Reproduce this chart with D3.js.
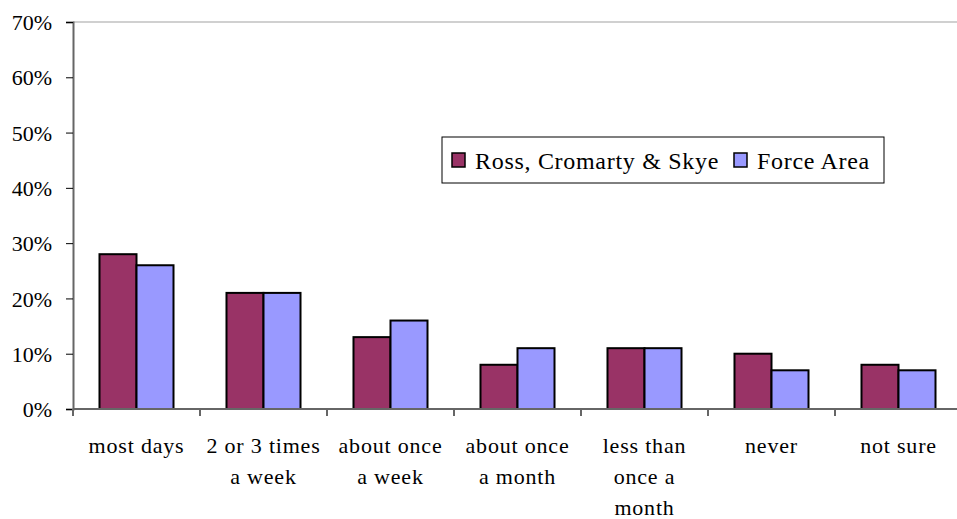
<!DOCTYPE html>
<html><head><meta charset="utf-8">
<script src="https://cdn.jsdelivr.net/npm/d3@7"></script>
<style>body{margin:0;background:#fff}svg{display:block}</style>
</head><body>
<svg id="c" width="957" height="519"></svg>
<script>
const categories = [["most days"],["2 or 3 times","a week"],["about once","a week"],["about once","a month"],["less than","once a","month"],["never"],["not sure"]];
const seriesNames = ["Ross, Cromarty & Skye","Force Area"];
const ross = [28,21,13,8,11,10,8];
const force = [26,21,16,11,11,7,7];
const yTicks = [0,10,20,30,40,50,60,70];
const colors = ["#993366","#9999FF"];

(function(){
const FF = '"Liberation Serif"';
const svg = d3.select("#c");
const pl = 73, pr = 962, pt = 22, pb = 409;
const x = d3.scaleBand().domain(d3.range(categories.length)).range([pl, pr]).padding(0);
const xs = d3.scaleBand().domain([0,1]).range([0, x.bandwidth()]).paddingInner(0).paddingOuter(0.716);
const y = d3.scaleLinear().domain([0,70]).range([pb, pt]);

svg.append("line").attr("x1",pl).attr("x2",pr).attr("y1",y(70)).attr("y2",y(70)).attr("stroke","#c0c0c0").attr("stroke-width",1.5);

const data = [ross, force];
const g = svg.append("g");
data.forEach((vals, si) => {
  g.selectAll(null).data(vals).enter().append("rect")
    .attr("x",(d,i)=>x(i)+xs(si))
    .attr("y",d=>y(d))
    .attr("width",xs.bandwidth())
    .attr("height",d=>y(0)-y(d))
    .attr("fill",colors[si]).attr("stroke","#000").attr("stroke-width",2);
});

const ya = svg.append("g").attr("transform",`translate(${pl},0)`)
  .call(d3.axisLeft(y).tickValues(yTicks).tickFormat(d=>d+"%").tickSize(7).tickPadding(14));
ya.attr("font-family",FF).attr("font-size",22);
ya.select(".domain").attr("stroke","#666").attr("stroke-width",2);
ya.selectAll(".tick line").attr("stroke","#000").attr("stroke-width",1);
ya.selectAll(".tick text").style("font-size","22px").style("font-family",FF).attr("fill","#000").attr("dy","0.35em");

const xa = svg.append("g").attr("transform",`translate(0,${pb})`);
xa.append("line").attr("x1",pl).attr("x2",pr).attr("stroke","#666").attr("stroke-width",2);
const bounds = d3.range(categories.length+1).map(i => i < categories.length ? x(i) : x(categories.length-1)+x.bandwidth());
xa.selectAll(null).data(bounds).enter().append("line")
  .attr("x1",d=>d).attr("x2",d=>d).attr("y1",0).attr("y2",7).attr("stroke","#666").attr("stroke-width",2);
categories.forEach((lines,i)=>{
  const cx = x(i)+x.bandwidth()/2;
  const t = xa.append("text").attr("text-anchor","middle").style("font-size","22px").style("font-family",FF)
    .style("letter-spacing","0.8px").attr("x", cx).attr("y", 44);
  lines.forEach((l,j)=>t.append("tspan").attr("x",cx).attr("dy", j===0?0:31).text(l));
});

const lg = svg.append("g");
lg.append("rect").attr("x",442).attr("y",137).attr("width",442).attr("height",46).attr("fill","#fff").attr("stroke","#000").attr("stroke-width",1);
const items = [{x:452, tx:475},{x:734, tx:757}];
seriesNames.forEach((n,i)=>{
  lg.append("rect").attr("x",items[i].x).attr("y",153).attr("width",13).attr("height",14).attr("fill",colors[i]).attr("stroke","#000").attr("stroke-width",1.5);
  lg.append("text").attr("x",items[i].tx).attr("y",169).style("font-size","24px").style("font-family",FF).style("letter-spacing","0.7px").text(n);
});
})();
</script>
</body></html>
